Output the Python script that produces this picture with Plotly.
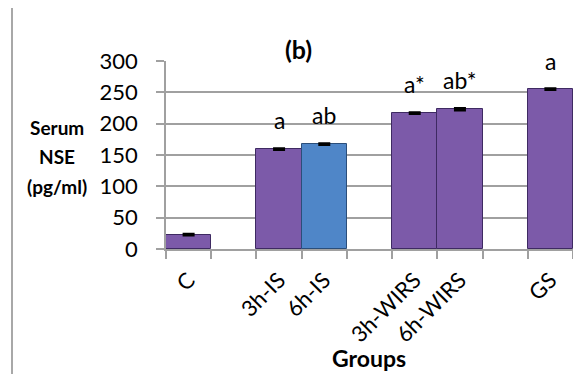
import plotly.graph_objects as go

groups = ["C", " ", "3h-IS", "6h-IS", "  ", "3h-WIRS", "6h-WIRS", "   ", "GS"]
nse_values = [23, None, 159.5, 167.5, None, 217, 223, None, 255]
nse_errors = [1, 0, 1, 1, 0, 1, 1.5, 0, 1]
bar_colors = ["#7C5AA9", "#7C5AA9", "#7C5AA9", "#4F86C8", "#7C5AA9", "#7C5AA9", "#7C5AA9", "#7C5AA9", "#7C5AA9"]
edge_colors = ["#3E2A62", "#3E2A62", "#3E2A62", "#2B4E7A", "#3E2A62", "#3E2A62", "#3E2A62", "#3E2A62", "#3E2A62"]
sig_labels = ["", "", "a", "ab", "", "a*", "ab*", "", "a"]
y_ticks = [0, 50, 100, 150, 200, 250, 300]

FONT = "Lato"

# page offset of the figure inside the browser (body margin)
OFF = 8
PL, PR, PT, PB = 166, 573, 61, 249   # plot area in screen pixels
W, H = 581, 374


def px(sx):
    return (sx - PL) / (PR - PL)


def py(sy):
    return (PB - sy) / (PB - PT)


fig = go.Figure()
fig.add_trace(go.Bar(
    x=groups, y=nse_values,
    marker=dict(color=bar_colors, line=dict(color=edge_colors, width=1)),
    error_y=dict(type="data", array=nse_errors, color="black", thickness=2.5, width=6),
    width=1.0,
))

ann = []
for g, v, e, s in zip(groups, nse_values, nse_errors, sig_labels):
    if s and v is not None:
        ann.append(dict(x=g, y=v + e, xref="x", yref="y", text=s, showarrow=False,
                        yanchor="bottom", yshift=12,
                        font=dict(family=FONT, size=23, color="black")))

ann.append(dict(x=px(298), y=py(49), xref="paper", yref="paper",
                text="<b>(b)</b>", showarrow=False, xanchor="center", yanchor="middle",
                font=dict(family=FONT, size=25, color="black")))
for txt, sy in [("Serum", 127), ("NSE", 156), ("(pg/ml)", 186)]:
    ann.append(dict(x=px(57), y=py(sy), xref="paper", yref="paper",
                    text="<b>" + txt + "</b>", showarrow=False, xanchor="center", yanchor="middle",
                    font=dict(family=FONT, size=19, color="black")))
ann.append(dict(x=px(369), y=py(358), xref="paper", yref="paper",
                text="<b>Groups</b>", showarrow=False, xanchor="center", yanchor="middle",
                font=dict(family=FONT, size=23, color="black")))

fig.update_layout(
    width=W, height=H,
    margin=dict(l=PL - OFF, r=W - (PR - OFF), t=PT - OFF, b=H - (PB - OFF), autoexpand=False),
    paper_bgcolor="white", plot_bgcolor="white",
    showlegend=False, bargap=0,
    annotations=ann,
    shapes=[dict(type="rect", xref="paper", yref="paper",
                 x0=px(12), x1=px(640), y0=py(420), y1=py(6),
                 line=dict(color="#8C8C8C", width=1.5), fillcolor="rgba(0,0,0,0)", layer="below")],
)
fig.update_yaxes(range=[0, 300], tickvals=y_ticks, showgrid=True, gridcolor="#A0A0A0", gridwidth=1.5,
                 ticks="outside", ticklen=8, tickcolor="#A0A0A0", tickwidth=1.5,
                 showline=True, linecolor="#A0A0A0", linewidth=1.5, zeroline=False, automargin=False,
                 ticklabelstandoff=14,
                 tickfont=dict(family=FONT, size=22, color="black"))
fig.update_xaxes(type="category", tickson="boundaries", ticks="outside", ticklen=8,
                 tickcolor="#A0A0A0", tickwidth=1.5, showline=True, linecolor="#A0A0A0", linewidth=1.5,
                 showgrid=False, tickangle=-45, automargin=False, ticklabelstandoff=8,
                 tickfont=dict(family=FONT, size=22, color="black"))

fig.write_html("out.html")
